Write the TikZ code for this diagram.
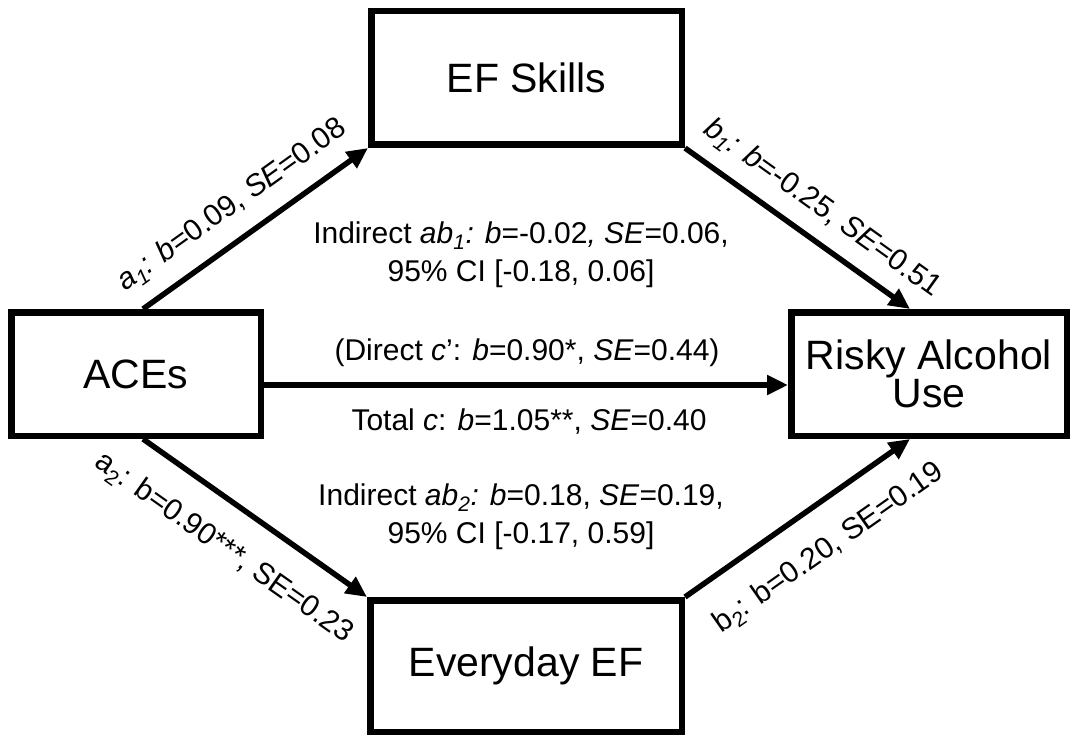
\documentclass[tikz,border=0pt]{standalone}
\usepackage{fontspec}
\setmainfont{Liberation Sans}
\usepackage{tikz}
\usetikzlibrary{arrows.meta, positioning, calc}

\begin{document}
\begin{tikzpicture}[x=1pt, y=-1pt,
    box/.style={draw, line width=6.5pt, align=center, font=\fontsize{41}{35}\selectfont},
    pfeil/.style={line width=5.5pt, -{Triangle[length=21pt, width=19pt]}},
    lab/.style={font=\fontsize{30}{38}\selectfont, align=center, inner sep=2pt}]
    % Mediationsmodell: ACEs -> EF -> riskanter Alkoholkonsum
    \useasboundingbox (0,0) rectangle (1073,735);
    \node[box, minimum width=249.5pt, minimum height=123.5pt] (aces) at (136,374) {ACEs};
    \node[box, minimum width=310.5pt, minimum height=133.5pt] (efskills) at (526.5,78) {EF Skills};
    \node[box, minimum width=311.5pt, minimum height=131.5pt] (everyday) at (526,666) {Everyday EF};
    \node[box, minimum width=275.5pt, minimum height=123.5pt] (alcohol) at (929,374) {Risky Alcohol\\Use};

    \draw[pfeil] ([xshift=7pt]aces.north) -- node[lab, sloped, above=14pt, pos=0.48]
      {\textit{a}\textsubscript{\textit{1}}\textit{:} \textit{b}=0.09, \textit{SE}=0.08} (efskills.south west);
    \draw[pfeil] (efskills.south east) -- node[lab, sloped, above=12pt, pos=0.53]
      {\textit{b}\textsubscript{\textit{1}}\textit{:} \textit{b}=-0.25, \textit{SE}=0.51} ([xshift=-19pt]alcohol.north);
    \draw[pfeil] ([xshift=7pt]aces.south) -- node[lab, sloped, below=24pt, pos=0.47]
      {a\textsubscript{2}: b=0.90***, SE=0.23} (everyday.north west);
    \draw[pfeil] (everyday.north east) -- node[lab, sloped, below=24pt, pos=0.53]
      {b\textsubscript{2}: b=0.20, SE=0.19} ([xshift=-19pt]alcohol.south);
    \draw[pfeil] ([yshift=-11pt]aces.east) -- ([yshift=-11pt]alcohol.west);

    \node[lab] (ind1) at (521,255) {Indirect \textit{ab}\textsubscript{\textit{1}}\textit{:} \textit{b}=-0.02\textit{,} \textit{SE}=0.06,\\95\% CI [-0.18, 0.06]};
    \node[lab, anchor=base] (direct) at (527,360) {(Direct \textit{c}': \textit{b}=0.90*, \textit{SE}=0.44)};
    \node[lab, anchor=base] (total) at (529,430) {Total \textit{c}: \textit{b}=1.05**, \textit{SE}=0.40};
    \node[lab] (ind2) at (521,517) {Indirect \textit{ab}\textsubscript{\textit{2}}\textit{:} \textit{b}=0.18, \textit{SE}=0.19,\\95\% CI [-0.17, 0.59]};
\end{tikzpicture}
\end{document}
